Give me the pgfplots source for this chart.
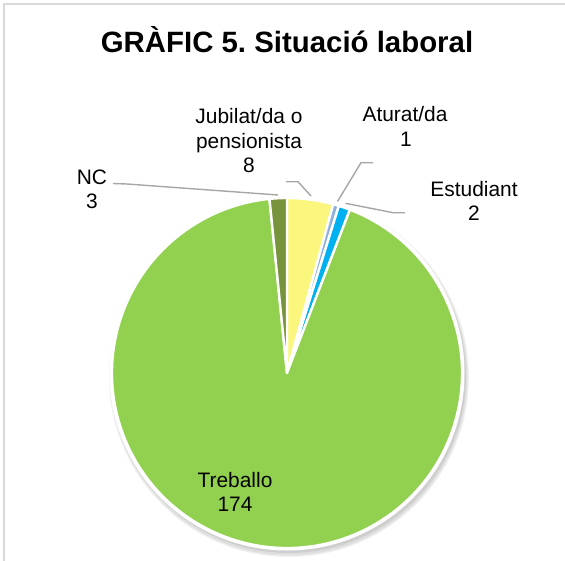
\documentclass[border=0pt]{standalone}
\usepackage{pgfplots}
\pgfplotsset{compat=1.18}
\usepackage{fontspec}
\setmainfont{Liberation Sans}
\frenchspacing
\definecolor{cTre}{HTML}{92D050}
\definecolor{cJub}{HTML}{FAF67E}
\definecolor{cAtu}{HTML}{8EB0DA}
\definecolor{cEst}{HTML}{00B0F0}
\definecolor{cNC}{HTML}{77933C}
\definecolor{cLine}{HTML}{A6A6A6}
\definecolor{cFrame}{HTML}{D9D9D9}
\begin{document}
\begin{tikzpicture}
% values: Jubilat/da o pensionista, Aturat/da, Estudiant, Treballo, NC
\def\vJub{8}\def\vAtu{1}\def\vEst{2}\def\vTre{174}\def\vNC{3}
\pgfmathsetmacro{\tot}{\vJub+\vAtu+\vEst+\vTre+\vNC}
\pgfmathsetmacro{\deg}{360/\tot}
\pgfmathsetmacro{\aA}{90}
\pgfmathsetmacro{\aB}{\aA-\deg*\vJub}
\pgfmathsetmacro{\aC}{\aB-\deg*\vAtu}
\pgfmathsetmacro{\aD}{\aC-\deg*\vEst}
\pgfmathsetmacro{\aE}{\aD-\deg*\vTre}
\pgfmathsetmacro{\aF}{\aE-\deg*\vNC}
\newcommand\slice[3]{\fill[#3, draw=white, line width=2.4bp, line join=round] (axis cs:287,373) -- ++(#1:175bp) arc[start angle=#1, end angle=#2, radius=175bp] -- cycle;}
\begin{axis}[width=565bp,height=561bp,scale only axis,
  xmin=0,xmax=565,ymin=0,ymax=561,y dir=reverse,hide axis,clip=false]
% frame
\draw[cFrame, line width=2bp] (axis cs:4,561) -- (axis cs:4,4.5) -- (axis cs:565,4.5);
% title
\node[anchor=base, font=\fontsize{29.5}{34}\selectfont\bfseries] at (axis cs:287,53) {GRÀFIC 5. Situació laboral};
% shadow
\fill[black,opacity=0.06] (axis cs:289,377) circle[radius=180bp];
\fill[black,opacity=0.07] (axis cs:289,377) circle[radius=178.5bp];
\fill[black,opacity=0.08] (axis cs:289,376) circle[radius=177bp];
\fill[white] (axis cs:287,373) circle[radius=177.5bp];
% slices
\slice{\aA}{\aB}{cJub}
\slice{\aB}{\aC}{cAtu}
\slice{\aC}{\aD}{cEst}
\slice{\aD}{\aE}{cTre}
\slice{\aE}{\aF}{cNC}
% leader lines
\draw[cLine, line width=1.4bp] (axis cs:113,183.5) -- (axis cs:127,184) -- (axis cs:278,195);
\draw[cLine, line width=1.4bp] (axis cs:286,181.7) -- (axis cs:298,181.7) -- (axis cs:311,196);
\draw[cLine, line width=1.4bp] (axis cs:373,162.7) -- (axis cs:361,162.7) -- (axis cs:337.5,201.5);
\draw[cLine, line width=1.4bp] (axis cs:345.5,203.3) -- (axis cs:393,212.7) -- (axis cs:405,212.7);
% labels
\begin{scope}[every node/.style={anchor=base, font=\fontsize{21}{24}\selectfont, inner sep=0pt}]
\node at (axis cs:249,124) {Jubilat/da o};
\node at (axis cs:249,148) {pensionista};
\node at (axis cs:249,172) {\vJub};
\node at (axis cs:405,122) {Aturat/da};
\node at (axis cs:406,146) {\vAtu};
\node at (axis cs:474,196) {Estudiant};
\node at (axis cs:474,220) {\vEst};
\node at (axis cs:92,184) {NC};
\node at (axis cs:92,208) {\vNC};
\node at (axis cs:235,487) {Treballo};
\node at (axis cs:235,511) {\vTre};
\end{scope}
\end{axis}
\pgfresetboundingbox
\path[use as bounding box] (current axis.south west) rectangle (current axis.north east);
\end{tikzpicture}
\end{document}
